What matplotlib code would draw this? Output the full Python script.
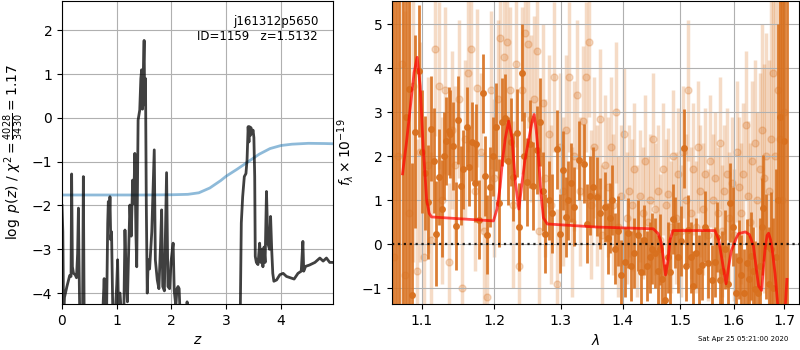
import matplotlib
matplotlib.use('Agg')
import matplotlib.pyplot as plt
from matplotlib.ticker import NullLocator
import numpy as np

# redshift fit: log p(z) and prior
z_grid = [0.000, 0.015, 0.030, 0.045, 0.090, 0.140, 0.165, 0.176, 0.190, 0.210,
          0.240, 0.265, 0.285, 0.300, 0.310, 0.325, 0.375, 0.390, 0.405, 0.740,
          0.770, 0.790, 0.815, 0.835, 0.846, 0.865, 0.876, 0.890, 0.905, 0.930,
          0.975, 1.000, 1.016, 1.035, 1.060, 1.090, 1.130, 1.150, 1.170, 1.195,
          1.215, 1.240, 1.265, 1.290, 1.310, 1.330, 1.350, 1.365, 1.390, 1.420,
          1.440, 1.455, 1.470, 1.490, 1.500, 1.510, 1.525, 1.540, 1.557, 1.575,
          1.600, 1.640, 1.685, 1.705, 1.740, 1.770, 1.800, 1.820, 1.840, 1.870,
          1.910, 1.935, 1.965, 1.990, 2.030, 2.050, 2.080, 2.100, 2.120, 2.140,
          2.160, 2.270, 2.285, 2.300, 3.255, 3.275, 3.300, 3.330, 3.360, 3.380,
          3.400, 3.415, 3.425, 3.440, 3.450, 3.470, 3.490, 3.505, 3.520, 3.530,
          3.550, 3.580, 3.610, 3.630, 3.650, 3.670, 3.690, 3.710, 3.735, 3.760,
          3.790, 3.810, 3.830, 3.850, 3.870, 3.920, 3.980, 4.040, 4.100, 4.170,
          4.240, 4.310, 4.370, 4.400, 4.415, 4.450, 4.520, 4.620, 4.710, 4.770,
          4.830, 4.890, 4.950]
log_pz = [-2.00, -2.60, -4.60, -4.10, -3.85, -3.60, -3.62, -1.28, -3.40, -3.55,
          -3.58, -3.65, -3.10, -2.06, -3.20, -4.60, -4.60, -1.34, -4.60, -4.60,
          -3.67, -4.60, -4.40, -2.40, -1.91, -2.30, -1.80, -2.78, -2.60, -4.60,
          -4.40, -3.80, -3.24, -4.60, -4.00, -4.60, -4.40, -2.56, -3.54, -4.20,
          -3.16, -1.99, -2.70, -1.42, -1.95, -0.81, -2.63, -3.40, -0.05, 0.18,
          0.90, 1.10, 0.20, 1.30, 1.77, 0.30, 0.90, -2.00, -4.00, -3.24,
          -3.45, -2.60, -0.73, -3.24, -3.70, -3.90, -2.90, -2.10, -3.85, -3.95,
          -1.25, -3.85, -3.90, -3.30, -2.86, -3.95, -4.30, -3.90, -3.85, -3.90,
          -4.60, -4.60, -4.20, -4.60, -4.60, -2.40, -1.80, -1.34, -1.27, -0.96,
          -0.20, -0.55, -0.20, -0.40, -0.22, -0.35, -0.28, -0.45, -1.34, -3.16,
          -3.30, -3.35, -2.86, -3.30, -3.00, -3.40, -2.95, -3.30, -1.68, -2.86,
          -3.00, -2.25, -3.00, -3.55, -3.73, -3.70, -3.58, -3.55, -3.62, -3.65,
          -3.68, -3.55, -3.50, -2.82, -3.50, -3.39, -3.36, -3.30, -3.20, -3.27,
          -3.20, -3.30, -3.30]

z_prior = [0.0, 0.5, 1.0, 1.5, 2.0, 2.3, 2.5, 2.7, 2.9, 3.0, 3.2, 3.4, 3.6,
           3.8, 4.0, 4.2, 4.5, 4.8, 4.95]
log_prior = [-1.76, -1.76, -1.76, -1.76, -1.755, -1.745, -1.71, -1.60, -1.43,
             -1.33, -1.17, -1.00, -0.83, -0.70, -0.63, -0.60, -0.58, -0.585, -0.59]

# 1D spectrum, darker beam
wave_a = [1.063, 1.067, 1.071, 1.075, 1.0795, 1.083, 1.0873, 1.0916, 1.0968, 1.1005,
          1.1048, 1.1083, 1.1127, 1.116, 1.1193, 1.1233, 1.127, 1.130, 1.1327, 1.136,
          1.1387, 1.1422, 1.1458, 1.1494, 1.153, 1.1566, 1.161, 1.1643, 1.1688, 1.172,
          1.1742, 1.1787, 1.1833, 1.1869, 1.1901, 1.1946, 1.199, 1.2029, 1.2065, 1.2113,
          1.2150, 1.2195, 1.2243, 1.2275, 1.2336, 1.2359, 1.2402, 1.244, 1.2476, 1.2523,
          1.2570, 1.2627, 1.2675, 1.272, 1.2761, 1.2815, 1.2869, 1.2941, 1.299, 1.3039,
          1.3079, 1.3113, 1.316, 1.3213, 1.3278, 1.3364, 1.3414, 1.346, 1.3516, 1.357,
          1.363, 1.3713, 1.375, 1.379, 1.383, 1.388, 1.393, 1.398, 1.4037, 1.409,
          1.4146, 1.420, 1.4255, 1.431, 1.4365, 1.442, 1.446, 1.450, 1.4557, 1.460,
          1.464, 1.468, 1.473, 1.4775, 1.4815, 1.487, 1.4915, 1.496, 1.501, 1.5067,
          1.511, 1.515, 1.5195, 1.524, 1.529, 1.534, 1.539, 1.545, 1.551, 1.558,
          1.564, 1.568, 1.574, 1.578, 1.583, 1.588, 1.592, 1.598, 1.6036, 1.610,
          1.6145, 1.6186, 1.625, 1.629, 1.633, 1.637, 1.641, 1.646, 1.650, 1.654,
          1.657, 1.663, 1.668, 1.672, 1.677, 1.682, 1.6865, 1.691, 1.6955, 1.700,
          1.705]
flux_a = [6.0, -2.5, 6.5, -2.0, 2.90, 3.52, -1.16, 2.56, 3.94, 2.10,
          1.62, 0.96, 2.63, 1.90, 0.24, 1.53, 0.81, 2.00, 2.35, 2.57,
          2.50, 2.24, 0.41, 2.82, 1.33, 1.70, 2.67, 1.76, 2.33, 1.40,
          2.28, 0.56, 3.43, 1.55, 0.22, 1.30, 2.00, 2.67, 0.93, 2.78,
          2.86, 1.90, 2.33, 1.53, 2.53, 0.40, 3.90, 2.00, 1.42, 2.28,
          1.32, 2.14, 2.78, 1.20, 0.24, 1.00, 0.70, 2.16, 0.24, 1.68,
          0.62, 1.00, 1.40, 0.85, 1.91, 1.83, 0.47, 1.10, 1.30, 1.08,
          0.70, 0.85, 0.13, 0.60, 1.00, -0.10, 0.30, -0.70, -0.40, 0.26,
          -0.50, -0.20, 0.20, -0.64, 0.10, -0.50, -0.30, -0.10, -0.20, -0.60,
          -0.12, -0.80, -1.26, -0.30, -0.64, 0.57, 0.27, -0.30, 0.08, 2.18,
          -0.50, 0.33, -0.30, -0.96, -0.20, -0.60, -0.47, 0.40, -0.43, -0.81,
          -0.40, 0.17, -0.81, -0.60, -0.12, -0.90, 0.94, 0.40, -1.10, -0.35,
          -0.70, -1.10, -0.43, -0.80, -0.27, -0.60, -1.03, -1.10, -0.50, 0.40,
          0.82, -0.05, -0.90, -0.12, -1.00, -0.30, 1.00, 2.90, -1.50, 2.35,
          6.00]
err_a = [9.0, 9.0, 9.0, 8.0, 7.0, 6.0, 3.0, 2.2, 1.5, 1.4,
         1.3, 1.3, 1.2, 1.2, 1.2, 1.1, 1.1, 1.0, 1.0, 1.0,
         1.0, 1.0, 1.0, 1.0, 0.9, 0.9, 0.9, 0.9, 0.9, 0.9,
         0.9, 0.9, 0.9, 0.9, 0.9, 0.9, 0.9, 1.0, 1.0, 1.0,
         1.0, 1.0, 1.0, 1.0, 1.0, 1.0, 1.1, 1.0, 1.0, 1.0,
         1.0, 1.0, 1.0, 0.9, 0.9, 0.9, 0.9, 0.9, 0.9, 0.9,
         0.9, 0.9, 0.9, 0.9, 0.9, 0.9, 0.9, 0.9, 0.9, 0.9,
         0.8, 0.8, 0.8, 0.8, 0.8, 0.8, 0.8, 0.8, 0.8, 0.8,
         0.8, 0.8, 0.8, 0.8, 0.8, 0.8, 0.8, 0.8, 0.8, 0.8,
         0.8, 0.8, 0.8, 0.8, 0.8, 0.8, 0.8, 0.8, 0.8, 0.9,
         0.8, 0.8, 0.8, 0.8, 0.8, 0.8, 0.8, 0.8, 0.8, 0.8,
         0.8, 0.8, 0.8, 0.9, 0.9, 0.9, 0.9, 0.9, 0.9, 0.9,
         0.9, 1.0, 1.0, 1.0, 1.0, 1.0, 1.1, 1.1, 1.1, 1.1,
         1.2, 1.2, 1.3, 1.3, 1.6, 2.0, 4.0, 9.0, 9.0, 9.0,
         9.0]

# second, noisier beam
wave_b = [1.064, 1.069, 1.074, 1.0785, 1.083, 1.088, 1.0935, 1.098, 1.103, 1.108,
          1.112, 1.118, 1.1225, 1.127, 1.131, 1.136, 1.141, 1.145, 1.150, 1.154,
          1.158, 1.163, 1.1675, 1.172, 1.176, 1.181, 1.185, 1.190, 1.195, 1.200,
          1.205, 1.209, 1.214, 1.218, 1.223, 1.227, 1.232, 1.236, 1.241, 1.245,
          1.250, 1.254, 1.259, 1.263, 1.267, 1.272, 1.276, 1.281, 1.285, 1.290,
          1.294, 1.299, 1.303, 1.308, 1.312, 1.317, 1.321, 1.326, 1.330, 1.335,
          1.339, 1.344, 1.348, 1.353, 1.357, 1.362, 1.366, 1.371, 1.375, 1.380,
          1.384, 1.389, 1.393, 1.398, 1.402, 1.407, 1.411, 1.416, 1.420, 1.425,
          1.429, 1.434, 1.438, 1.443, 1.447, 1.452, 1.456, 1.461, 1.465, 1.470,
          1.474, 1.479, 1.483, 1.488, 1.492, 1.497, 1.501, 1.506, 1.510, 1.515,
          1.519, 1.524, 1.528, 1.533, 1.537, 1.542, 1.546, 1.551, 1.555, 1.560,
          1.564, 1.569, 1.573, 1.578, 1.582, 1.587, 1.591, 1.596, 1.600, 1.605,
          1.609, 1.614, 1.618, 1.623, 1.627, 1.632, 1.636, 1.641, 1.645, 1.650,
          1.654, 1.659, 1.663, 1.668, 1.672, 1.677, 1.681, 1.686, 1.690, 1.695,
          1.700]
flux_b = [-0.3, 2.0, 4.1, -0.7, 0.7, 3.6, -0.6, 2.1, -0.3, 1.8,
          0.1, 4.45, 3.6, 1.0, 3.5, -0.4, 2.6, 1.8, 3.3, -1.0,
          2.4, 3.9, 4.45, 1.2, 3.55, 2.1, 0.3, -1.2, 3.5, 1.5,
          3.3, 4.7, 4.25, 4.6, 3.5, 0.9, 4.1, -0.5, 3.5, 4.8,
          4.55, 2.85, 3.3, 4.4, 0.3, 3.2, 1.5, 2.5, 0.9, 3.8,
          -0.9, 2.2, 1.2, 2.6, 3.8, 0.5, 2.0, 3.4, 1.2, 2.8,
          3.8, 4.6, 0.9, 2.2, 1.1, 2.85, 0.2, 1.8, 1.3, 2.2,
          0.9, 3.0, 0.4, 1.1, 2.5, 0.6, 1.2, 0.9, 1.7, 0.3,
          1.1, 0.7, 1.9, 0.5, 1.0, 2.4, 0.8, 1.2, 0.1, 1.7,
          0.9, 1.15, 0.4, 2.0, 0.6, 1.6, 0.3, 2.1, 1.0, 3.5,
          0.7, 1.7, 0.4, 2.2, 1.2, 0.8, 1.6, 0.2, 1.9, 1.0,
          1.5, 0.7, 2.3, 0.3, 1.2, 1.6, 0.6, 1.4, 0.2, 2.1,
          1.3, 0.7, 1.6, 2.7, 1.1, 0.5, 1.9, 2.3, 1.0, 1.7,
          2.6, 1.5, 2.0, 1.2, 2.4, 3.9, 2.0, 3.5, 2.4, 1.0,
          3.0]
err_b = [9.0, 9.0, 8.0, 6.0, 5.0, 4.0, 3.0, 2.5, 2.2, 2.0,
         2.0, 2.0, 1.9, 1.9, 1.9, 1.8, 1.8, 1.8, 1.8, 1.8,
         1.8, 1.8, 1.8, 1.8, 1.8, 1.8, 1.8, 1.8, 1.8, 1.8,
         1.8, 1.9, 1.9, 1.9, 1.9, 1.9, 1.9, 1.9, 1.9, 1.9,
         1.9, 1.9, 1.9, 1.9, 1.9, 1.8, 1.8, 1.8, 1.8, 1.7,
         1.7, 1.7, 1.7, 1.7, 1.7, 1.7, 1.7, 1.7, 1.7, 1.7,
         1.7, 1.7, 1.7, 1.6, 1.6, 1.6, 1.6, 1.6, 1.6, 1.6,
         1.6, 1.6, 1.6, 1.6, 1.5, 1.5, 1.5, 1.5, 1.5, 1.5,
         1.5, 1.5, 1.5, 1.5, 1.5, 1.5, 1.5, 1.5, 1.5, 1.5,
         1.5, 1.5, 1.5, 1.5, 1.5, 1.5, 1.5, 1.5, 1.5, 1.6,
         1.5, 1.5, 1.5, 1.5, 1.5, 1.5, 1.5, 1.5, 1.5, 1.5,
         1.5, 1.5, 1.5, 1.5, 1.5, 1.5, 1.5, 1.5, 1.5, 1.6,
         1.6, 1.6, 1.6, 1.7, 1.7, 1.8, 1.8, 1.9, 2.0, 2.2,
         2.4, 2.6, 2.8, 3.0, 3.3, 3.8, 4.2, 5.0, 8.0, 9.0,
         9.0]

# best-fit template
wave_model = [1.075, 1.080, 1.085, 1.090, 1.094, 1.098, 1.102, 1.1066, 1.110, 1.113,
              1.150, 1.199, 1.204, 1.2085, 1.212, 1.216, 1.221, 1.226, 1.231, 1.236,
              1.240, 1.245, 1.251, 1.256, 1.259, 1.262, 1.265, 1.269, 1.273, 1.279,
              1.357, 1.4525, 1.461, 1.466, 1.470, 1.474, 1.478, 1.482, 1.487, 1.564,
              1.571, 1.578, 1.585, 1.590, 1.595, 1.600, 1.605, 1.609, 1.622, 1.630,
              1.638, 1.643, 1.648, 1.654, 1.658, 1.661, 1.665, 1.668, 1.672, 1.675,
              1.681, 1.685, 1.690, 1.695, 1.698, 1.702, 1.705]
flux_model = [1.6, 2.3, 3.1, 3.9, 4.25, 3.6, 2.2, 1.0, 0.7, 0.62,
              0.58, 0.53, 0.8, 1.3, 1.9, 2.4, 2.8, 2.4, 1.4, 0.8,
              1.3, 1.9, 2.4, 2.8, 2.95, 2.6, 2.1, 1.2, 0.6, 0.46,
              0.39, 0.35, 0.24, 0.05, -0.3, -0.7, -0.4, 0.1, 0.31, 0.31,
              0.1, -0.4, -0.9, -0.5, -0.15, 0.0, 0.15, 0.24, 0.28, 0.22,
              -0.04, -0.5, -0.95, -1.05, -0.5, -0.1, 0.2, 0.25, 0.1, -0.1,
              -0.67, -1.2, -1.8, -2.5, -2.0, -1.4, -0.8]

root = 'j161312p5650'
obj_id = 1159
z_best = 1.5132
chi2, dof = 4028, 3430
stamp = 'Sat Apr 25 05:21:00 2020'

spec_color = '#d8701e'

fig = plt.figure(figsize=(8, 3.5), dpi=100)
ax1 = fig.add_axes([0.0775, 0.1314, 0.33875, 0.8657])
ax2 = fig.add_axes([0.49, 0.1314, 0.50875, 0.8657])

# p(z) panel
ax1.plot(z_grid, log_pz, color='k', alpha=0.75, lw=2, zorder=3)
ax1.plot(z_prior, log_prior, color='tab:blue', alpha=0.5, lw=2, zorder=2)
ax1.set_xlim(0, 4.95)
ax1.set_ylim(-4.25, max(log_pz) + 0.9)
ax1.set_xticks([0, 1, 2, 3, 4])
ax1.set_yticks([-4, -3, -2, -1, 0, 1, 2])
ax1.grid(True)
ax1.set_xlabel('$z$')
ax1.set_ylabel(r'$\log\ p(z)$' + ' / ' +
               r'$\chi^2=\frac{%d}{%d}=%.2f$' % (chi2, dof, chi2 / dof))
ax1.text(0.945, 0.955, '%s\nID=%d   z=%.4f' % (root, obj_id, z_best),
         transform=ax1.transAxes, ha='right', va='top', fontsize=8.5)

# spectrum panel
ax2.errorbar(wave_b, flux_b, yerr=err_b, color=spec_color, alpha=0.25,
             marker='o', ms=5, ls='none', elinewidth=2.5, zorder=1)
ax2.errorbar(wave_a, flux_a, yerr=err_a, color=spec_color, alpha=0.9,
             marker='o', ms=4, ls='none', elinewidth=2, zorder=2)
ax2.plot(wave_model, flux_model, color='r', alpha=0.7, lw=2, zorder=4)
ax2.plot([1.0615, 1.73], [0, 0], color='k', ls=':', lw=1.6, alpha=0.85, zorder=5)
ax2.set_xscale('log')
ax2.set_xlim(1.0615, 1.73)
ax2.set_ylim(-1.36, 5.53)
lam_ticks = [1.1, 1.2, 1.3, 1.4, 1.5, 1.6, 1.7]
ax2.set_xticks(lam_ticks)
ax2.set_xticklabels(['%.1f' % t for t in lam_ticks])
ax2.xaxis.set_minor_locator(NullLocator())
ax2.set_yticks([-1, 0, 1, 2, 3, 4, 5])
ax2.grid(True)
ax2.set_xlabel(r'$\lambda$')
ax2.set_ylabel(r'$f_\lambda\times10^{-19}$')

fig.text(0.985, 0.03, stamp, ha='right', va='center', fontsize=5)

fig.savefig('out.png', dpi=100)
